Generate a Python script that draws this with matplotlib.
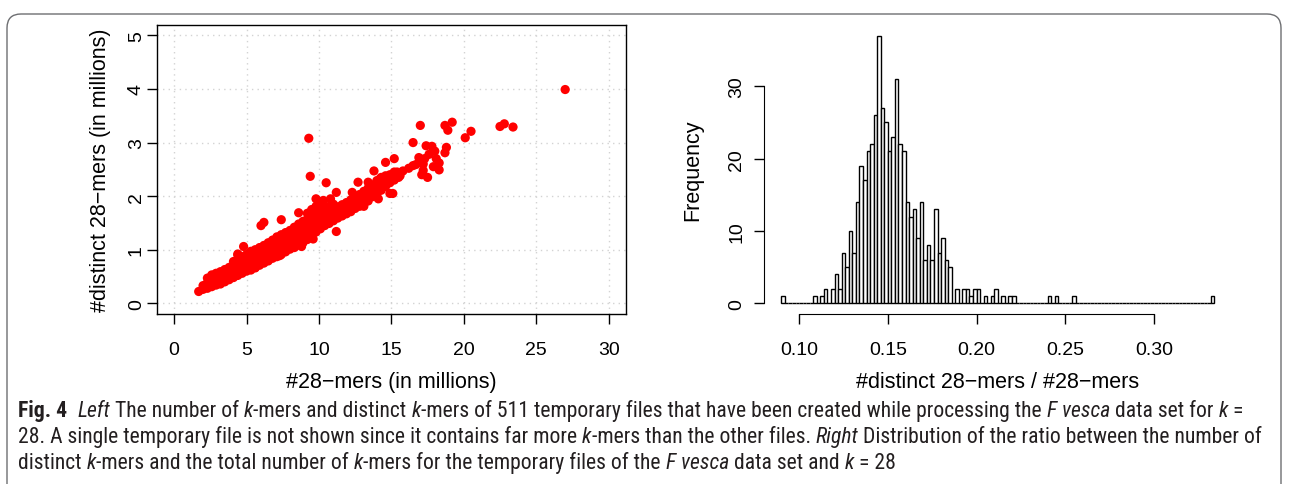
import matplotlib
matplotlib.use("Agg")
import matplotlib.pyplot as plt
from matplotlib import font_manager
from matplotlib.patches import FancyBboxPatch
from matplotlib.transforms import IdentityTransform

plt.rcParams['font.family'] = ['Liberation Sans', 'DejaVu Sans']

# ---- left panel: #28-mers vs #distinct 28-mers (millions)
band = [(1.7, 0.22),
        (2.0, 0.26), (2.0, 0.33),
        (2.3, 0.28), (2.3, 0.38), (2.3, 0.47),
        (2.6, 0.31), (2.6, 0.42), (2.6, 0.53),
        (2.9, 0.34), (2.9, 0.45), (2.9, 0.56),
        (3.2, 0.36), (3.2, 0.48), (3.2, 0.59),
        (3.5, 0.40), (3.5, 0.52), (3.5, 0.63),
        (3.8, 0.44), (3.8, 0.56), (3.8, 0.67),
        (4.1, 0.48), (4.1, 0.60), (4.1, 0.70), (4.1, 0.78),
        (4.4, 0.52), (4.4, 0.64), (4.4, 0.74), (4.4, 0.90),
        (4.7, 0.56), (4.7, 0.67), (4.7, 0.78), (4.7, 0.87),
        (5.0, 0.60), (5.0, 0.71), (5.0, 0.82), (5.0, 0.91),
        (5.3, 0.62), (5.3, 0.75), (5.3, 0.86), (5.3, 0.97),
        (5.6, 0.66), (5.6, 0.79), (5.6, 0.90), (5.6, 1.00),
        (5.9, 0.71), (5.9, 0.82), (5.9, 0.93), (5.9, 1.04),
        (6.2, 0.75), (6.2, 0.86), (6.2, 0.97), (6.2, 1.08),
        (6.5, 0.79), (6.5, 0.91), (6.5, 1.02), (6.5, 1.13),
        (6.8, 0.84), (6.8, 0.95), (6.8, 1.06), (6.8, 1.18),
        (7.1, 0.87), (7.1, 1.00), (7.1, 1.11), (7.1, 1.24),
        (7.4, 0.91), (7.4, 1.04), (7.4, 1.15), (7.4, 1.28),
        (7.7, 0.96), (7.7, 1.08), (7.7, 1.19), (7.7, 1.32),
        (8.0, 1.01), (8.0, 1.13), (8.0, 1.24), (8.0, 1.36),
        (8.3, 1.04), (8.3, 1.17), (8.3, 1.29), (8.3, 1.42),
        (8.6, 1.09), (8.6, 1.22), (8.6, 1.34), (8.6, 1.48),
        (8.9, 1.13), (8.9, 1.28), (8.9, 1.39), (8.9, 1.53),
        (9.2, 1.19), (9.2, 1.33), (9.2, 1.44), (9.2, 1.57), (9.2, 1.68),
        (9.5, 1.23), (9.5, 1.37), (9.5, 1.48), (9.5, 1.61), (9.5, 1.75),
        (9.8, 1.33), (9.8, 1.45), (9.8, 1.55), (9.8, 1.67), (9.8, 1.81),
        (10.1, 1.39), (10.1, 1.52), (10.1, 1.61), (10.1, 1.71), (10.1, 1.83),
        (10.4, 1.45), (10.4, 1.57), (10.4, 1.66), (10.4, 1.77),
        (10.7, 1.49), (10.7, 1.60), (10.7, 1.71), (10.7, 1.81),
        (11.0, 1.54), (11.0, 1.65), (11.0, 1.75), (11.0, 1.85),
        (11.3, 1.59), (11.3, 1.70), (11.3, 1.80),
        (11.6, 1.63), (11.6, 1.73), (11.6, 1.84),
        (11.9, 1.67), (11.9, 1.77), (11.9, 1.88),
        (12.2, 1.71), (12.2, 1.82), (12.2, 1.93),
        (12.5, 1.77), (12.5, 1.87), (12.5, 1.97),
        (12.8, 1.81), (12.8, 1.92), (12.8, 2.03),
        (13.1, 1.85), (13.1, 1.96), (13.1, 2.09),
        (13.4, 1.91), (13.4, 2.02), (13.4, 2.15),
        (13.7, 1.99), (13.7, 2.10), (13.7, 2.21),
        (14.0, 2.04), (14.0, 2.16), (14.0, 2.29),
        (14.3, 2.11), (14.3, 2.22), (14.3, 2.35),
        (14.6, 2.18), (14.6, 2.30),
        (14.9, 2.25), (14.9, 2.40),
        (15.2, 2.30), (15.2, 2.45),
        (15.6, 2.38)]

spread = [(27.0, 3.99), (23.4, 3.29), (22.8, 3.35), (22.5, 3.30), (20.5, 3.21),
          (20.1, 3.09), (19.2, 3.38), (18.9, 3.23), (18.7, 3.32), (17.0, 3.32),
          (16.5, 3.00), (9.3, 3.08), (9.4, 2.37), (10.5, 2.25), (11.2, 2.07),
          (18.8, 2.91), (18.7, 2.81), (18.0, 2.84), (17.8, 2.93), (17.4, 2.94),
          (15.2, 2.70), (14.6, 2.63), (13.8, 2.47), (18.3, 2.62), (18.3, 2.49),
          (17.5, 2.35), (17.1, 2.40), (17.2, 2.48), (17.3, 2.70), (17.2, 2.60),
          (16.7, 2.59), (16.5, 2.57), (15.8, 2.47), (15.5, 2.35), (15.4, 2.45),
          (15.1, 2.05), (14.9, 2.05), (14.6, 2.38), (14.2, 2.32), (13.4, 2.26),
          (12.7, 2.26), (12.3, 2.07), (14.1, 1.95), (13.1, 1.81), (11.9, 1.70),
          (11.2, 1.34), (6.2, 1.51), (6.0, 1.45), (4.8, 1.06), (4.4, 0.92),
          (7.4, 1.56), (8.6, 1.69), (9.8, 1.95), (10.3, 1.92), (10.8, 1.95),
          (7.3, 0.89), (8.8, 1.06), (9.6, 1.20), (5.6, 0.67), (16.9, 2.72),
          (17.6, 2.78), (18.1, 2.70), (16.2, 2.52), (17.9, 2.55)]

# ---- right panel: histogram of distinct/total ratio, bins of 0.002 from 0.090
bin_start = 0.090
bin_width = 0.002
counts = ([1] + [0] * 8 + [1, 0, 1, 2, 0, 2, 4, 2] +
          [7, 5, 10, 7, 14, 19, 17, 21, 22, 26, 37, 27, 25, 21, 23, 31,
           22, 21, 14, 12, 13, 9, 14, 6, 8, 6, 13, 7, 9, 6, 5] +
          [0, 2, 0, 2, 2, 1, 2, 2, 0, 1, 0, 1, 2, 0, 1, 0, 1, 1] +
          [0] * 9 + [1, 0, 1] + [0] * 4 + [1] + [0] * 38 + [1])

caption = [
    [("Fig. 4", "b"), ("  ", "n"), ("Left", "i"), (" The number of ", "n"), ("k", "i"),
     ("-mers and distinct ", "n"), ("k", "i"),
     ("-mers of 511 temporary files that have been created while processing the ", "n"),
     ("F vesca", "i"), (" data set for ", "n"), ("k", "i"), (" =", "n")],
    [("28. A single temporary file is not shown since it contains far more ", "n"), ("k", "i"),
     ("-mers than the other files. ", "n"), ("Right", "i"),
     (" Distribution of the ratio between the number of", "n")],
    [("distinct ", "n"), ("k", "i"), ("-mers and the total number of ", "n"), ("k", "i"),
     ("-mers for the temporary files of the ", "n"), ("F vesca", "i"),
     (" data set and ", "n"), ("k", "i"), (" = 28", "n")],
]

W, H = 1289, 485
fig = plt.figure(figsize=(W / 100, H / 100), dpi=100)


def px_axes(left, top, right, bottom):
    return fig.add_axes([left / W, 1 - bottom / H, (right - left) / W, (bottom - top) / H])


tick_kw = dict(direction='out', length=7.5, width=1, labelsize=14, color='black')
lab_size = 15.5

# scatter
ax1 = px_axes(156.7, 25.7, 626, 315)
xs = [p[0] for p in band] + [p[0] for p in spread]
ys = [p[1] for p in band] + [p[1] for p in spread]
ax1.scatter(xs, ys, s=44, c='#ff0000', edgecolors='none', zorder=3)
ax1.set_xlim(-1.2, 31.2)
ax1.set_ylim(-0.2, 5.2)
ax1.set_xticks(range(0, 31, 5))
ax1.set_yticks(range(0, 6))
ax1.grid(True, color='lightgray', linestyle=(0, (1, 3)), linewidth=1)
for sp in ax1.spines.values():
    sp.set_linewidth(1)
ax1.tick_params(**tick_kw)
ax1.tick_params(axis='x', pad=12)
ax1.tick_params(axis='y', labelrotation=90, pad=1)
for lab in ax1.get_yticklabels():
    lab.set_va('center')
ax1.set_xlabel('#28\u2212mers (in millions)', fontsize=lab_size, labelpad=9)
ax1.set_ylabel('#distinct 28\u2212mers (in millions)', fontsize=lab_size, labelpad=12)

# histogram
ax2 = px_axes(764, 26, 1231.7, 315)
lefts = [bin_start + i * bin_width for i in range(len(counts))]
ax2.bar(lefts, counts, width=bin_width, align='edge', facecolor='white',
        edgecolor='black', linewidth=1)
lo, hi = bin_start, bin_start + len(counts) * bin_width
pad = 0.04 * (hi - lo)
ax2.set_xlim(lo - pad, hi + pad)
ax2.set_ylim(-0.04 * max(counts), 1.04 * max(counts))
ax2.set_xticks([0.10, 0.15, 0.20, 0.25, 0.30])
ax2.set_xticklabels(['0.10', '0.15', '0.20', '0.25', '0.30'])
ax2.set_yticks([0, 10, 20, 30])
ax2.spines['top'].set_visible(False)
ax2.spines['right'].set_visible(False)
ax2.spines['left'].set_bounds(0, 30)
ax2.spines['bottom'].set_bounds(0.10, 0.30)
ax2.tick_params(**tick_kw)
ax2.tick_params(axis='x', pad=12)
ax2.tick_params(axis='y', labelrotation=90, pad=6)
for lab in ax2.get_yticklabels():
    lab.set_va('center')
ax2.set_xlabel('#distinct 28\u2212mers / #28\u2212mers', fontsize=lab_size, labelpad=9)
ax2.set_ylabel('Frequency', fontsize=lab_size, labelpad=18)

# caption box
box = FancyBboxPatch((7, -40), 1274, 510, boxstyle='round,pad=0,rounding_size=14',
                     transform=IdentityTransform(), facecolor='none',
                     edgecolor='#6d6e71', linewidth=1.0)
fig.patches.append(box)


def has_font(name, stretch='normal'):
    try:
        path = font_manager.findfont(font_manager.FontProperties(family=name, stretch=stretch),
                                     fallback_to_default=False)
    except ValueError:
        return False
    if stretch != 'normal':
        return 'ondensed' in path or 'arrow' in path
    return True


cap_family, cap_stretch = 'Liberation Sans', 'normal'
for fam, st in [('Liberation Sans Narrow', 'normal'), ('Roboto Condensed', 'normal'),
                ('Open Sans Condensed', 'normal'), ('Noto Sans', 'condensed'),
                ('DejaVu Sans', 'condensed'), ('Roboto', 'condensed')]:
    if has_font(fam, st):
        cap_family, cap_stretch = fam, st
        break

renderer = fig.canvas.get_renderer()


def run_kw(style, size):
    return dict(fontsize=size, family=cap_family, stretch=cap_stretch, color='#231f20',
                style='italic' if style == 'i' else 'normal',
                weight='bold' if style == 'b' else 'normal')


def run_width(s, kw):
    t = fig.text(0, 0, '|' + s + '|', **kw)
    w = t.get_window_extent(renderer).width
    t.remove()
    t = fig.text(0, 0, '||', **kw)
    w -= t.get_window_extent(renderer).width
    t.remove()
    return w


# fit the font size so the second line spans about the same width as in the figure
base = 10
line2 = sum(run_width(s, run_kw(st, base)) for s, st in caption[1])
cap_size = base * 1238 / line2

for runs, yb in zip(caption, [417, 443, 469]):
    x = 18
    for s, st in runs:
        kw = run_kw(st, cap_size)
        fig.text(x / W, 1 - yb / H, s, ha='left', va='baseline', **kw)
        x += run_width(s, kw)

fig.savefig('out.png', dpi=100)
